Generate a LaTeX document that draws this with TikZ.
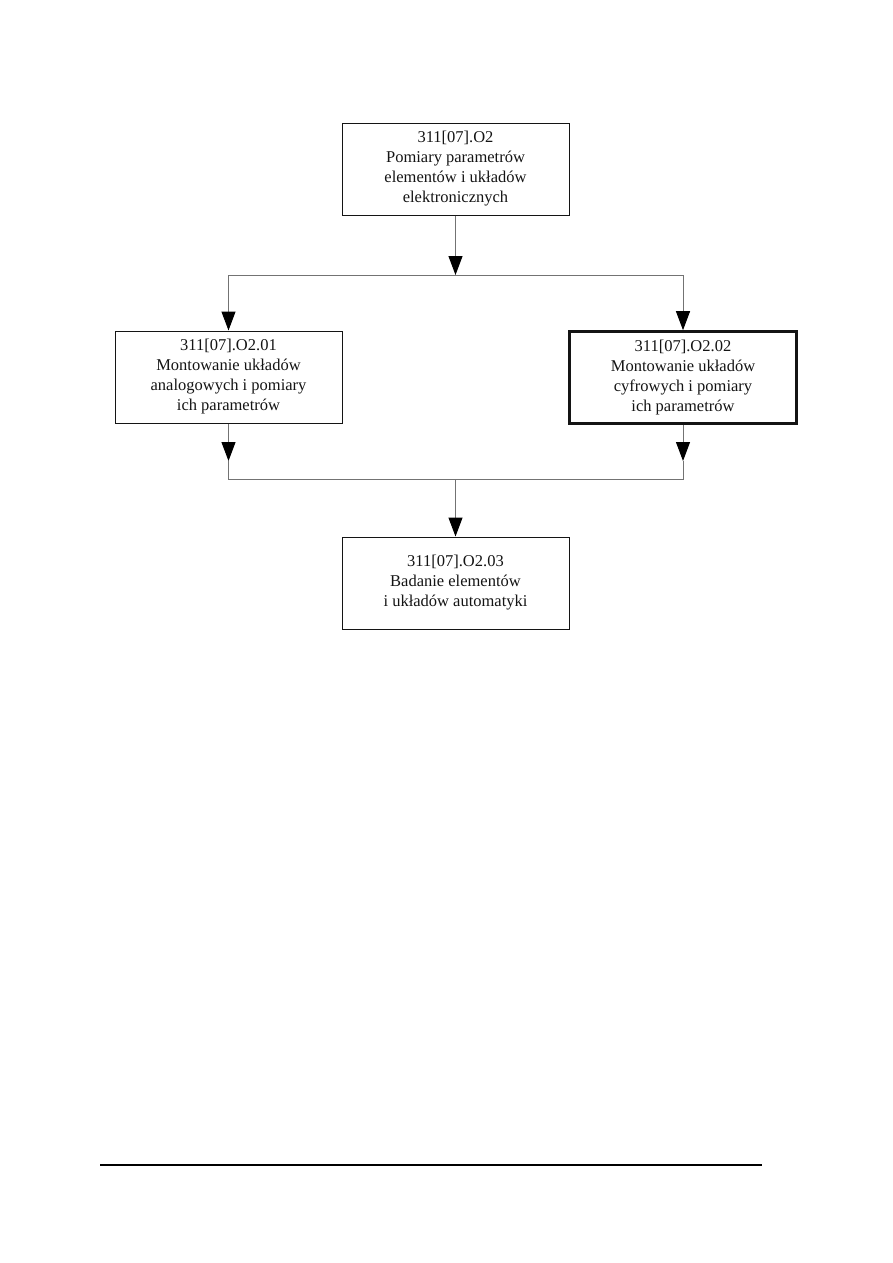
\documentclass[tikz,border=0pt]{standalone}
\usepackage{fontspec}
\setmainfont{Liberation Serif}
\usetikzlibrary{positioning,arrows.meta}
\definecolor{ink}{RGB}{20,20,20}
\definecolor{wire}{RGB}{115,115,115}
\tikzset{
  box/.style={draw=ink, line width=1pt, align=center, minimum width=227pt,
              minimum height=92pt, inner sep=0pt, text=ink,
              font=\fontsize{16.5}{20}\selectfont},
  mainbox/.style={box, line width=2.6pt},
  wire/.style={draw=wire, line width=1pt},
  arr/.style={wire, -{Triangle[length=19pt,width=14pt,fill=black,color=black]}},
}
\begin{document}
\begin{tikzpicture}[x=1pt,y=-1pt]
  \useasboundingbox (0,0) rectangle (893,1263);

  \node[box] (mod) at (455.5,169)
    {311[07].O2\\Pomiary parametrów\\elementów i układów\\elektronicznych};
  \node[box] (ana) at (228.5,377)
    {311[07].O2.01\\Montowanie układów\\analogowych i pomiary\\ich parametrów};
  \node[mainbox] (cyf) at (683,377.5)
    {311[07].O2.02\\Montowanie układów\\cyfrowych i pomiary\\ich parametrów};
  \node[box] (aut) at (455.5,583)
    {311[07].O2.03\\Badanie elementów\\i układów automatyki};

  % split under the module
  \coordinate (split) at (455.5,275);
  \coordinate (splitL) at (ana.north |- split);
  \coordinate (splitR) at (cyf.north |- split);
  \draw[arr] (mod.south) -- (split);
  \draw[wire] (splitL) -- (splitR);
  \draw[arr] (splitL) -- (ana.north);
  \draw[arr] (splitR) -- (cyf.north);

  % join above the last unit
  \coordinate (join) at (455.5,479);
  \coordinate (joinL) at (ana.south |- join);
  \coordinate (joinR) at (cyf.south |- join);
  \coordinate (tipL) at (ana.south |- 0,461);
  \coordinate (tipR) at (cyf.south |- 0,461);
  \draw[arr] (ana.south) -- (tipL);
  \draw[arr] (cyf.south) -- (tipR);
  \draw[wire] (tipL) -- (joinL) -- (joinR) -- (tipR);
  \draw[arr] (join) -- (aut.north);

  % page rule
  \draw[line width=1.2pt] (100,1165) -- (762,1165);
\end{tikzpicture}
\end{document}
